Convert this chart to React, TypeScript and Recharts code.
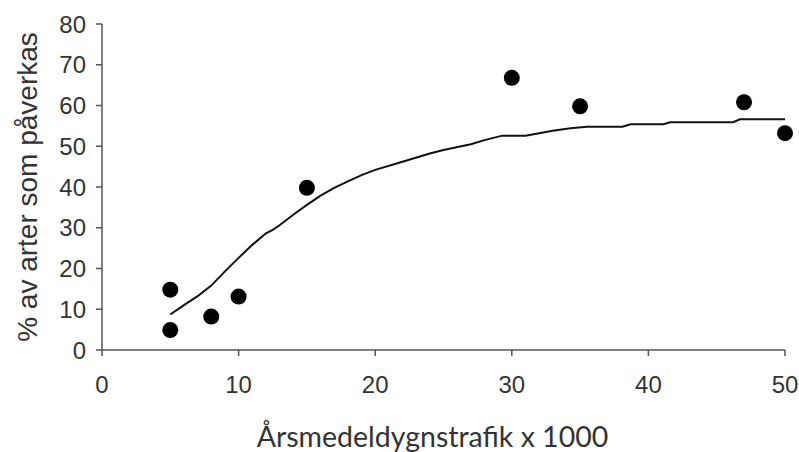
import { ScatterChart, Scatter, XAxis, YAxis } from "recharts";

// observerade punkter
const pointX = [5, 5, 8, 10, 15, 30, 35, 47, 50];
const pointY = [14.8, 4.9, 8.2, 13.1, 39.8, 66.8, 59.8, 60.8, 53.2];

// anpassad kurva
const curveX = [5, 6, 7, 8, 9, 10, 11, 12, 12.5, 13, 14, 15, 16, 17, 18, 19, 20, 22, 24, 25, 27, 28, 29.3, 31, 33, 34.3, 35.5, 38.1, 38.7, 41.1, 41.6, 46.2, 46.7, 50];
const curveY = [8.7, 11, 13.2, 15.8, 19.3, 22.6, 25.8, 28.6, 29.5, 30.6, 33.2, 35.6, 37.9, 39.8, 41.4, 42.9, 44.2, 46.2, 48.2, 49.1, 50.5, 51.5, 52.6, 52.6, 53.8, 54.4, 54.8, 54.8, 55.4, 55.4, 55.9, 55.9, 56.6, 56.6];

const xTicks = [0, 10, 20, 30, 40, 50];
const yTicks = [0, 10, 20, 30, 40, 50, 60, 70, 80];

const points = pointX.map((x, i) => ({ x, y: pointY[i] }));
const curve = curveX.map((x, i) => ({ x, y: curveY[i] }));

const tick = { fontSize: 24, fill: "#333", fontFamily: "Liberation Sans, Arial, sans-serif" };
const axisLine = { stroke: "#555", strokeWidth: 1.5 };

export default function App() {
  return (
    <div style={{ position: "absolute", left: 0, top: 0, background: "#fff" }}>
      <ScatterChart width={799} height={452} margin={{ top: 24, right: 14, left: 0, bottom: 0 }}>
        <XAxis
          type="number"
          dataKey="x"
          domain={[0, 50]}
          ticks={xTicks}
          tick={tick}
          tickSize={6}
          tickMargin={20}
          axisLine={axisLine}
          tickLine={axisLine}
          height={102}
          label={{
            value: "Årsmedeldygnstrafik x 1000",
            position: "insideBottom",
            offset: 5,
            dx: -11,
            fontSize: 28.5,
            fill: "#333",
            fontFamily: "Lato, sans-serif",
          }}
        />
        <YAxis
          type="number"
          dataKey="y"
          domain={[0, 80]}
          ticks={yTicks}
          tick={tick}
          tickSize={6}
          tickMargin={10}
          axisLine={axisLine}
          tickLine={axisLine}
          width={102}
          label={{
            value: "% av arter som påverkas",
            angle: -90,
            position: "insideLeft",
            offset: 27,
            fontSize: 28,
            fill: "#333",
            fontFamily: "Liberation Sans, Arial, sans-serif",
            style: { textAnchor: "middle" },
          }}
        />
        <Scatter
          data={curve}
          line={{ stroke: "#111", strokeWidth: 2 }}
          lineType="joint"
          shape={() => null}
          isAnimationActive={false}
        />
        <Scatter
          data={points}
          fill="#000"
          shape={(p: any) => <circle cx={p.cx} cy={p.cy} r={8} fill="#000" />}
          isAnimationActive={false}
        />
      </ScatterChart>
    </div>
  );
}
